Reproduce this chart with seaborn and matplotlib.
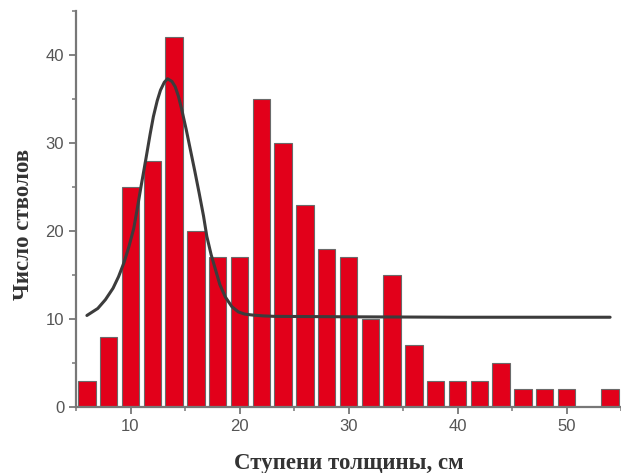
import numpy as np
import pandas as pd
import matplotlib
matplotlib.use("Agg")
import matplotlib.pyplot as plt
from matplotlib.ticker import MultipleLocator
import seaborn as sns

# Data
centers = [6, 8, 10, 12, 14, 16, 18, 20, 22, 24, 26, 28, 30, 32, 34, 36, 38, 40, 42, 44, 46, 48, 50, 52, 54]
counts = [3, 8, 25, 28, 42, 20, 17, 17, 35, 30, 23, 18, 17, 10, 15, 7, 3, 3, 3, 5, 2, 2, 2, 0, 2]

curve_x = [6.0, 7.0, 7.7, 8.4, 8.9, 9.4, 9.85, 10.3, 10.6, 11.0, 11.4, 11.8, 12.1, 12.45, 12.75, 13.1, 13.4,
           13.8, 14.1, 14.4, 14.7, 15.1, 15.5, 15.9, 16.3, 16.7, 17.0, 17.4, 17.8, 18.2, 18.7, 19.3, 19.9,
           20.5, 21.2, 22.2, 23.2, 30.0, 40.0, 54.0]
curve_y = [10.4, 11.2, 12.2, 13.5, 14.8, 16.4, 18.2, 20.3, 22.4, 25.3, 28.1, 31.0, 33.0, 34.8, 36.0, 36.9, 37.3,
           37.0, 36.4, 35.3, 33.8, 31.6, 29.2, 26.8, 24.3, 21.7, 19.4, 17.3, 15.6, 13.9, 12.5, 11.4, 10.8,
           10.55, 10.45, 10.35, 10.3, 10.25, 10.2, 10.2]

bars = pd.DataFrame({"d": centers, "n": counts})
curve = pd.DataFrame({"x": curve_x, "y": curve_y})

sns.set_style("white")
plt.rcParams["font.family"] = ["Liberation Sans", "DejaVu Sans"]

fig = plt.figure(figsize=(6.21, 4.73), dpi=100)
ax = fig.add_axes([76 / 621, 66 / 473, 545 / 621, 396 / 473])

sns.barplot(data=bars, x="d", y="n", native_scale=True, width=0.8, color="#E2001A",
            saturation=1, edgecolor="#6a6a6a", linewidth=0.8, ax=ax, zorder=2)
sns.lineplot(data=curve, x="x", y="y", color="#3c3c3c", linewidth=2.2, ax=ax, zorder=3)

ax.set_xlim(5, 55)
ax.set_ylim(0, 45)
ax.xaxis.set_major_locator(MultipleLocator(10))
ax.xaxis.set_minor_locator(MultipleLocator(5))
ax.yaxis.set_major_locator(MultipleLocator(10))
ax.yaxis.set_minor_locator(MultipleLocator(5))
ax.tick_params(axis="both", which="major", direction="out", length=5, width=1.3,
               color="#777777", labelsize=12, labelcolor="#555555", bottom=True, left=True)
ax.tick_params(axis="both", which="minor", direction="out", length=3, width=1.1,
               color="#777777", bottom=True, left=True)

for s in ["top", "right"]:
    ax.spines[s].set_visible(False)
for s in ["left", "bottom"]:
    ax.spines[s].set_color("#777777")
    ax.spines[s].set_linewidth(1.6)

ax.set_xlabel("Ступени толщины, см", family=["Liberation Serif", "DejaVu Serif"],
              fontweight="bold", fontsize=16.5, color="#333333", labelpad=14)
ax.set_ylabel("Число стволов", family=["Liberation Serif", "DejaVu Serif"],
              fontweight="bold", fontsize=16.5, color="#333333")
ax.yaxis.set_label_coords(-0.077, 0.462)

fig.savefig("out.png", dpi=100)
